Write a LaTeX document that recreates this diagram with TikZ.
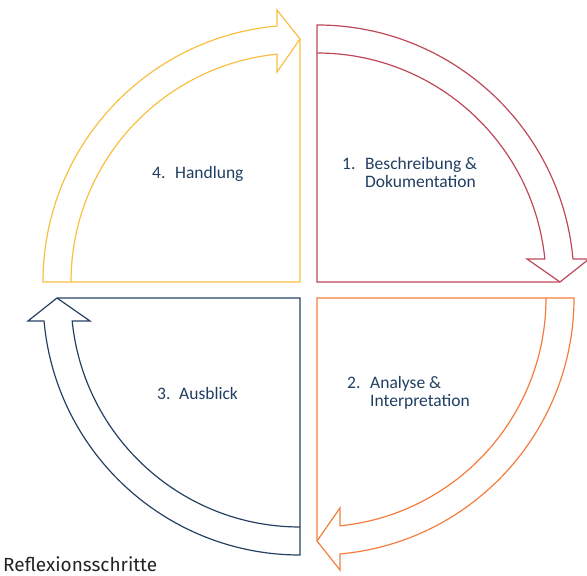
\documentclass[tikz,border=0pt]{standalone}
\usepackage{fontspec}
\setmainfont{Carlito}
\newfontfamily\capfont{Fira Sans}
\definecolor{cred}{RGB}{190,72,88}
\definecolor{corange}{RGB}{244,125,62}
\definecolor{cyellow}{RGB}{248,192,64}
\definecolor{cblue}{RGB}{38,64,100}
\definecolor{ctext}{RGB}{32,62,98}
\definecolor{ccap}{RGB}{35,35,35}
\newcommand\quadarrow{%
  \draw (0,0) -- (0,257) arc[start angle=90,end angle=5.13,radius=257] -- (272,23) -- (243,0) -- cycle;
  \draw (0,229) arc[start angle=90,end angle=5.76,radius=229] -- (210,23) -- (243,0);
}
\newcommand\steplabel[3]{\fontsize{17.5}{18}\selectfont\begin{tabular}[t]{@{}l@{}l@{}}\makebox[#1][l]{#2} & #3\end{tabular}}
\tikzset{
  qline/.style={line width=1.2pt, line join=miter},
  lbl/.style={anchor=base west, inner sep=0pt, text=ctext}
}
\begin{document}
\begin{tikzpicture}[x=1pt,y=1pt]
\useasboundingbox (0,0) rectangle (587,576);
\coordinate (c1) at (317,294);
\coordinate (c2) at (317,278);
\coordinate (c3) at (300,278);
\coordinate (c4) at (300,294);
\begin{scope}[shift={(c1)}, qline, draw=cred]\quadarrow\end{scope}
\begin{scope}[shift={(c2)}, rotate=-90, qline, draw=corange]\quadarrow\end{scope}
\begin{scope}[shift={(c3)}, rotate=-180, qline, draw=cblue]\quadarrow\end{scope}
\begin{scope}[shift={(c4)}, rotate=90, qline, draw=cyellow]\quadarrow\end{scope}
\node[lbl] (t1) at (342,406) {\steplabel{23pt}{1.}{Beschreibung \&\\ & Dokumentation}};
\node[lbl] (t2) at (347,187) {\steplabel{23pt}{2.}{Analyse \&\\ & Interpretation}};
\node[lbl] (t3) at (157,176) {\steplabel{22pt}{3.}{Ausblick}};
\node[lbl] (t4) at (152,397) {\steplabel{23pt}{4.}{Handlung}};
\node[anchor=base west, inner sep=0pt, text depth=0pt, text=ccap, font=\capfont\fontsize{19}{22}\selectfont] (cap) at (3,4) {Reflexionsschritte};
\end{tikzpicture}
\end{document}
